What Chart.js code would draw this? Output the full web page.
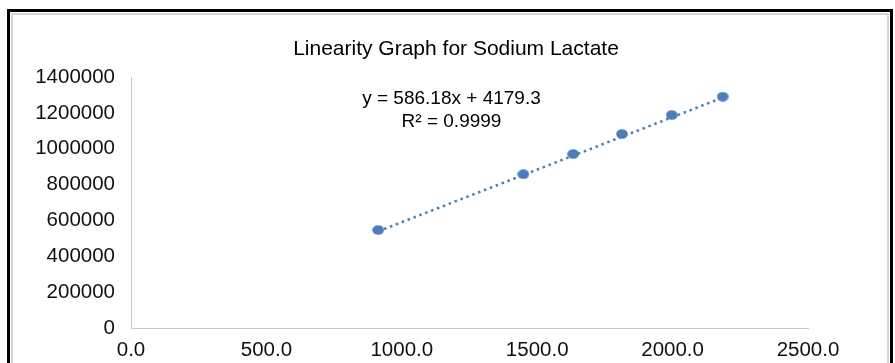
<!DOCTYPE html>
<html>
<head>
<meta charset="utf-8">
<title>Linearity Graph for Sodium Lactate</title>
<script src="https://cdn.jsdelivr.net/npm/chart.js@4.4.1/dist/chart.umd.min.js"></script>
<style>
  html, body { margin: 0; padding: 0; background: #fff; }
  body { width: 895px; height: 363px; position: relative; overflow: hidden; font-family: 'Liberation Sans', Arial, sans-serif; }
  .frame { position: absolute; left: 7px; top: 9px; width: 880px; height: 400px; border: 3px solid #000; }
  .frame-inner { position: absolute; left: 1px; top: 1px; right: 1px; bottom: 1px; border: 2px solid #d6d6d6; }
  #chart { position: absolute; left: 0; top: 0; }
  .title { position: absolute; left: 0; top: 36px; width: 912px; text-align: center; font-size: 21px; line-height: 24px; color: #000; }
  .eq { position: absolute; left: 0; top: 86px; width: 903px; text-align: center; font-size: 19px; line-height: 23px; color: #000; }
</style>
</head>
<body>
<div class="frame"><div class="frame-inner"></div></div>
<canvas id="chart" width="895" height="363"></canvas>
<div class="title">Linearity Graph for Sodium Lactate</div>
<div class="eq">y = 586.18x + 4179.3<br>R² = 0.9999</div>
<script>
(function () {
  // ─── Data ───
  const concX = [913, 1449, 1633, 1813, 1997, 2185];
  const areaY = [546600, 857300, 970500, 1082000, 1188000, 1290000];
  const slope = 586.18, intercept = 4179.3;
  const xTicks = [0, 500, 1000, 1500, 2000, 2500];
  const yTicks = [0, 200000, 400000, 600000, 800000, 1000000, 1200000, 1400000];

  const blue = '#4a7dbb';
  const points = concX.map((x, i) => ({ x: x, y: areaY[i] }));
  const xMin = Math.min(...concX), xMax = Math.max(...concX);
  const trend = [xMin, xMax].map(x => ({ x: x, y: slope * x + intercept }));

  // slightly oval marker like the original
  const marker = document.createElement('canvas');
  marker.width = 12; marker.height = 10;
  const mc = marker.getContext('2d');
  mc.fillStyle = blue;
  mc.beginPath(); mc.ellipse(6, 5, 5.8, 4.8, 0, 0, Math.PI * 2); mc.fill();

  const tickFont = { family: "'Liberation Sans', Arial, sans-serif", size: 20.5 };

  new Chart(document.getElementById('chart'), {
    type: 'scatter',
    data: {
      datasets: [
        { data: points, pointStyle: marker, pointRadius: 6, order: 1 },
        { data: trend, showLine: true, borderColor: blue, borderWidth: 2.5, borderDash: [2.5, 3.8],
          pointRadius: 0, fill: false, order: 2 }
      ]
    },
    options: {
      responsive: false, animation: false,
      layout: { padding: { top: 77, right: 87, bottom: 0, left: 0 } },
      plugins: { legend: { display: false }, tooltip: { enabled: false } },
      scales: {
        x: {
          type: 'linear', min: xTicks[0], max: xTicks[xTicks.length - 1],
          afterBuildTicks: s => { s.ticks = xTicks.map(v => ({ value: v })); },
          afterFit: s => { s.height = 35; },
          grid: { display: false, drawTicks: false },
          border: { display: true, color: '#cccccc', width: 1 },
          ticks: { font: tickFont, color: '#111', padding: 10, maxRotation: 0, callback: v => Number(v).toFixed(1) }
        },
        y: {
          min: yTicks[0], max: yTicks[yTicks.length - 1],
          afterBuildTicks: s => { s.ticks = yTicks.map(v => ({ value: v })); },
          afterFit: s => { s.width = 131; },
          grid: { display: false, drawTicks: false },
          border: { display: true, color: '#cccccc', width: 1 },
          ticks: { font: tickFont, color: '#111', padding: 16, callback: v => String(v) }
        }
      }
    }
  });
})();
</script>
</body>
</html>
